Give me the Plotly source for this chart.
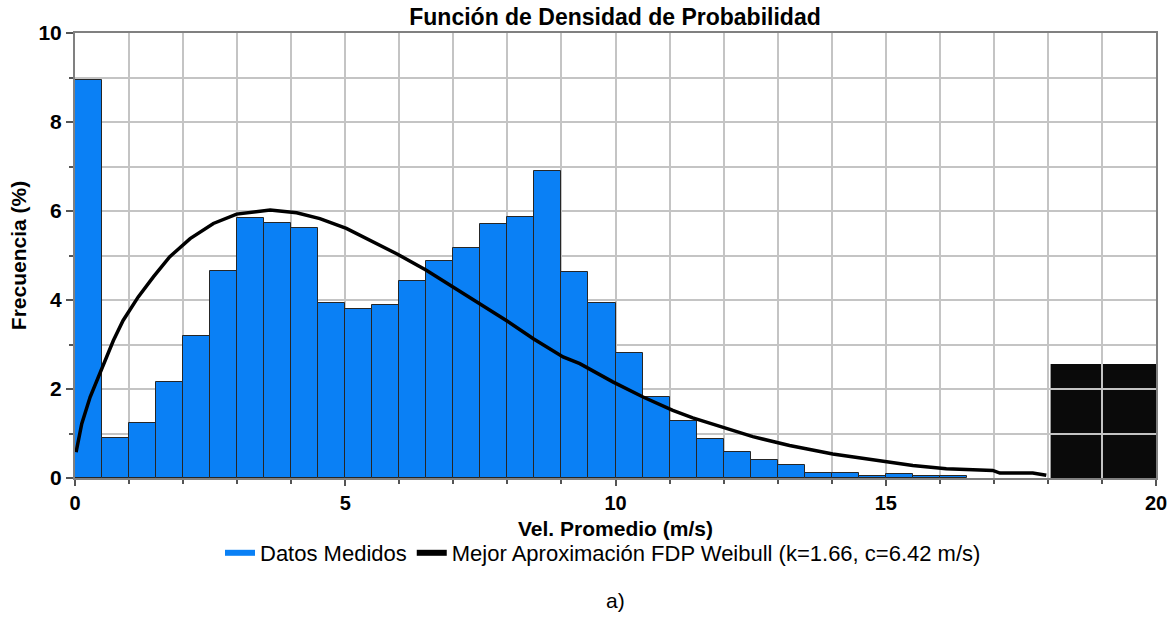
import plotly.graph_objects as go

# ---- data ----
bin_start = [0.0, 0.5, 1.0, 1.5, 2.0, 2.5, 3.0, 3.5, 4.0, 4.5, 5.0, 5.5, 6.0, 6.5,
             7.0, 7.5, 8.0, 8.5, 9.0, 9.5, 10.0, 10.5, 11.0, 11.5, 12.0, 12.5,
             13.0, 13.5, 14.0, 14.5, 15.0, 15.5, 16.0]
freq = [8.95, 0.91, 1.24, 2.15, 3.18, 4.66, 5.85, 5.74, 5.61, 3.93, 3.79, 3.88,
        4.42, 4.87, 5.16, 5.70, 5.86, 6.89, 4.62, 3.93, 2.82, 1.82, 1.28, 0.87,
        0.59, 0.41, 0.30, 0.12, 0.12, 0.05, 0.09, 0.04, 0.04]
bin_width = 0.5

curve_x = [0.02, 0.125, 0.28, 0.48, 0.71, 0.89, 1.17, 1.45, 1.75, 2.13, 2.56, 2.99,
           3.61, 4.10, 4.53, 5.02, 5.45, 5.95, 6.50, 7.00, 7.49, 7.98, 8.48, 9.03,
           9.34, 9.95, 10.51, 11.06, 11.43, 11.99, 12.54, 13.22, 14.02, 14.89,
           15.50, 16.12, 16.98, 17.11, 17.72, 17.97]
curve_y = [0.58, 1.22, 1.82, 2.42, 3.09, 3.54, 4.07, 4.52, 4.97, 5.38, 5.72, 5.93,
           6.02, 5.96, 5.83, 5.61, 5.34, 5.04, 4.67, 4.29, 3.92, 3.54, 3.13, 2.72,
           2.57, 2.16, 1.82, 1.52, 1.35, 1.14, 0.93, 0.73, 0.54, 0.39,
           0.28, 0.21, 0.17, 0.11, 0.11, 0.06]

x_ticks = [0, 5, 10, 15, 20]
y_ticks = [0, 2, 4, 6, 8, 10]

# dark artefact box in lower-right corner of the plot (data units)
box_x0, box_x1, box_y0, box_y1 = 18.05, 20.0, 0.0, 2.56

title_text = "Función de Densidad de Probabilidad"
x_title = "Vel. Promedio (m/s)"
y_title = "Frecuencia (%)"
name_bars = "Datos Medidos"
name_curve = "Mejor Aproximación FDP Weibull (k=1.66, c=6.42 m/s)"
caption = "a)"

BLUE = "#0A80F5"
bar_x = [s + bin_width / 2 for s in bin_start]

fig = go.Figure()
fig.add_trace(go.Bar(
    x=bar_x, y=freq, width=bin_width,
    marker=dict(color=BLUE, line=dict(color="#262626", width=1)),
    name=name_bars, showlegend=False,
))
fig.add_trace(go.Scatter(
    x=curve_x, y=curve_y, mode="lines",
    line=dict(color="black", width=3.5),
    name=name_curve, showlegend=False,
))
# legend entries (line symbols as in the reference)
fig.add_trace(go.Scatter(x=[None], y=[None], mode="lines",
                         line=dict(color=BLUE, width=6), name=name_bars))
fig.add_trace(go.Scatter(x=[None], y=[None], mode="lines",
                         line=dict(color="black", width=6), name=name_curve))

fig.add_shape(type="rect", xref="x", yref="y",
              x0=box_x0, x1=box_x1, y0=box_y0, y1=box_y1,
              fillcolor="#0a0a0a", line=dict(width=0), layer="below")

FONT = "Liberation Sans, Arial, sans-serif"
PLOT_H = 622 - 33 - 144

fig.update_layout(
    width=1175, height=622,
    margin=dict(l=75, r=19, t=33, b=144, autoexpand=False),
    paper_bgcolor="white", plot_bgcolor="white",
    bargap=0,
    title=dict(text="<b>" + title_text + "</b>", x=615 / 1175, xanchor="center",
               y=1 - 17 / 622, yanchor="middle", yref="container",
               font=dict(family=FONT, size=23, color="black")),
    legend=dict(orientation="h", x=(603 - 75) / 1081, xanchor="center", xref="paper",
                y=1 - 553 / 622, yanchor="middle", yref="container",
                font=dict(family=FONT, size=22, color="black"),
                itemwidth=30, tracegroupgap=0, bgcolor="rgba(0,0,0,0)"),
    showlegend=True,
)

fig.update_xaxes(
    range=[0, 20], tickvals=x_ticks, ticktext=["<b>%d</b>" % v for v in x_ticks],
    ticks="outside", ticklen=6, tickcolor="#555", tickwidth=1.5,
    showline=True, linecolor="#808080", linewidth=2, mirror=True,
    showgrid=True, gridcolor="#c4c4c4", gridwidth=2, zeroline=False,
    automargin=False,
    tickfont=dict(family=FONT, size=20, color="black"),
    minor=dict(dtick=1, tick0=0, ticks="outside", ticklen=4, tickcolor="#555",
               showgrid=True, gridcolor="#c4c4c4", gridwidth=2),
)
fig.update_yaxes(
    range=[0, 10], tickvals=y_ticks, ticktext=["<b>%d</b>" % v for v in y_ticks],
    ticks="outside", ticklen=7, tickcolor="#555", tickwidth=1.5,
    showline=True, linecolor="#808080", linewidth=2, mirror=True,
    showgrid=True, gridcolor="#c4c4c4", gridwidth=2, zeroline=False,
    automargin=False,
    tickfont=dict(family=FONT, size=21, color="black"),
    minor=dict(dtick=1, tick0=0, ticks="outside", ticklen=4, tickcolor="#555",
               showgrid=True, gridcolor="#c4c4c4", gridwidth=2),
    title=dict(text="<b>" + y_title + "</b>", standoff=6,
               font=dict(family=FONT, size=21, color="black")),
)

# x-axis title placed as an annotation so it sits just under the tick labels
fig.add_annotation(text="<b>" + x_title + "</b>", xref="paper", yref="paper",
                   x=0.5, y=-(528 - 478) / PLOT_H, xanchor="center", yanchor="middle",
                   showarrow=False, font=dict(family=FONT, size=21, color="black"))

fig.add_annotation(text=caption, xref="paper", yref="paper",
                   x=0.5, y=-(600 - 478) / PLOT_H, xanchor="center", yanchor="middle",
                   showarrow=False, font=dict(family=FONT, size=21, color="black"))

fig.write_html("out.html")
